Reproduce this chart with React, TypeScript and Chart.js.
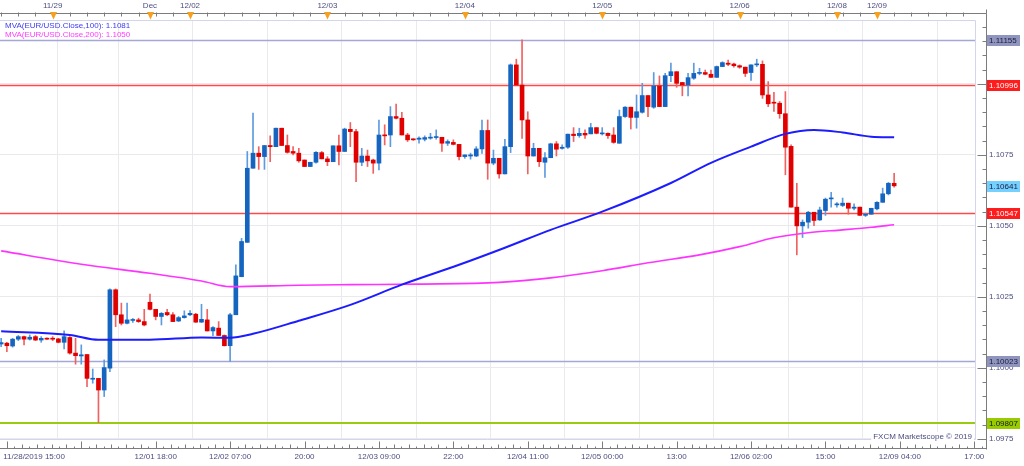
import React, { useEffect, useRef } from 'react';
import { Chart, registerables } from 'chart.js';

Chart.register(...registerables);

// Hourly EUR/USD candles, 11/28/2019 15:00 -> 12/09/2019 03:00 (weekend bars absent)
const opens = [
  1.10084, 1.10087, 1.10077, 1.10101, 1.10110, 1.10101, 1.10110, 1.10098, 1.10104, 1.10104,
  1.10102, 1.10090, 1.10107, 1.10052, 1.10042, 1.10047, 1.09960, 1.09963, 1.09922, 1.09999,
  1.10275, 1.10187, 1.10157, 1.10167, 1.10169, 1.10163, 1.10231, 1.10206, 1.10181, 1.10195,
  1.10187, 1.10165, 1.10177, 1.10187, 1.10189, 1.10161, 1.10169, 1.10130, 1.10140, 1.10114,
  1.10078, 1.10187, 1.10321, 1.10442, 1.10703, 1.10756, 1.10744, 1.10783, 1.10779, 1.10844,
  1.10783, 1.10762, 1.10756, 1.10732, 1.10709, 1.10724, 1.10758, 1.10736, 1.10726, 1.10782,
  1.10762, 1.10840, 1.10832, 1.10724, 1.10746, 1.10732, 1.10721, 1.10820, 1.10820, 1.10885,
  1.10879, 1.10820, 1.10805, 1.10805, 1.10805, 1.10809, 1.10811, 1.10812, 1.10791, 1.10794,
  1.10787, 1.10744, 1.10746, 1.10746, 1.10771, 1.10836, 1.10721, 1.10738, 1.10683, 1.10779,
  1.11067, 1.10996, 1.10873, 1.10746, 1.10773, 1.10724, 1.10740, 1.10789, 1.10773, 1.10777,
  1.10823, 1.10818, 1.10826, 1.10824, 1.10846, 1.10824, 1.10826, 1.10820, 1.10791, 1.10885,
  1.10918, 1.10882, 1.10900, 1.10959, 1.10918, 1.10993, 1.10920, 1.11029, 1.11043, 1.11005,
  1.10996, 1.11020, 1.11037, 1.11040, 1.11034, 1.11023, 1.11061, 1.11073, 1.11070, 1.11064,
  1.11059, 1.11040, 1.11067, 1.11069, 1.10961, 1.10935, 1.10932, 1.10895, 1.10780, 1.10566,
  1.10500, 1.10513, 1.10548, 1.10521, 1.10554, 1.10595, 1.10574, 1.10572, 1.10580, 1.10562,
  1.10566, 1.10537, 1.10541, 1.10560, 1.10583, 1.10613, 1.10650,
];

const highs = [
  1.10104, 1.10090, 1.10104, 1.10114, 1.10112, 1.10116, 1.10114, 1.10110, 1.10106, 1.10110,
  1.10104, 1.10130, 1.10110, 1.10104, 1.10081, 1.10047, 1.09996, 1.09963, 1.10028, 1.10278,
  1.10278, 1.10228, 1.10228, 1.10174, 1.10175, 1.10206, 1.10260, 1.10206, 1.10195, 1.10206,
  1.10195, 1.10181, 1.10201, 1.10202, 1.10192, 1.10224, 1.10206, 1.10145, 1.10163, 1.10116,
  1.10192, 1.10363, 1.10456, 1.10762, 1.10897, 1.10779, 1.10783, 1.10817, 1.10844, 1.10844,
  1.10820, 1.10779, 1.10773, 1.10732, 1.10724, 1.10762, 1.10762, 1.10744, 1.10782, 1.10820,
  1.10844, 1.10864, 1.10840, 1.10773, 1.10767, 1.10735, 1.10873, 1.10856, 1.10920, 1.10929,
  1.10900, 1.10826, 1.10807, 1.10814, 1.10817, 1.10826, 1.10838, 1.10812, 1.10803, 1.10803,
  1.10787, 1.10750, 1.10756, 1.10779, 1.10873, 1.10873, 1.10767, 1.10738, 1.10805, 1.11070,
  1.11087, 1.11155, 1.10902, 1.10791, 1.10773, 1.10758, 1.10791, 1.10797, 1.10785, 1.10823,
  1.10846, 1.10844, 1.10838, 1.10861, 1.10846, 1.10846, 1.10828, 1.10846, 1.10908, 1.10920,
  1.10918, 1.10961, 1.11002, 1.10959, 1.11040, 1.11028, 1.11037, 1.11073, 1.11043, 1.11005,
  1.11037, 1.11073, 1.11055, 1.11049, 1.11049, 1.11063, 1.11078, 1.11084, 1.11073, 1.11067,
  1.11059, 1.11067, 1.11087, 1.11081, 1.11008, 1.10970, 1.10938, 1.10973, 1.10785, 1.10650,
  1.10521, 1.10551, 1.10548, 1.10566, 1.10598, 1.10618, 1.10582, 1.10598, 1.10580, 1.10578,
  1.10566, 1.10545, 1.10562, 1.10586, 1.10633, 1.10653, 1.10685,
];

const lows = [
  1.10075, 1.10057, 1.10073, 1.10096, 1.10081, 1.10098, 1.10096, 1.10090, 1.10100, 1.10096,
  1.10088, 1.10067, 1.10048, 1.10013, 1.10013, 1.09934, 1.09946, 1.09807, 1.09899, 1.09987,
  1.10145, 1.10151, 1.10155, 1.10160, 1.10160, 1.10148, 1.10204, 1.10169, 1.10151, 1.10184,
  1.10163, 1.10163, 1.10175, 1.10184, 1.10160, 1.10160, 1.10130, 1.10113, 1.10114, 1.10077,
  1.10023, 1.10187, 1.10321, 1.10442, 1.10703, 1.10699, 1.10699, 1.10726, 1.10779, 1.10783,
  1.10756, 1.10750, 1.10724, 1.10709, 1.10709, 1.10721, 1.10736, 1.10712, 1.10726, 1.10715,
  1.10762, 1.10779, 1.10656, 1.10712, 1.10709, 1.10685, 1.10697, 1.10785, 1.10779, 1.10877,
  1.10820, 1.10797, 1.10801, 1.10791, 1.10799, 1.10805, 1.10805, 1.10762, 1.10783, 1.10785,
  1.10732, 1.10738, 1.10735, 1.10744, 1.10755, 1.10664, 1.10715, 1.10668, 1.10683, 1.10758,
  1.10996, 1.10808, 1.10683, 1.10746, 1.10709, 1.10671, 1.10740, 1.10746, 1.10770, 1.10773,
  1.10797, 1.10812, 1.10808, 1.10824, 1.10824, 1.10820, 1.10808, 1.10791, 1.10791, 1.10882,
  1.10841, 1.10844, 1.10897, 1.10885, 1.10914, 1.10920, 1.10920, 1.11008, 1.10988, 1.10958,
  1.10958, 1.11016, 1.11032, 1.11032, 1.11023, 1.11023, 1.11061, 1.11064, 1.11059, 1.11055,
  1.11026, 1.11012, 1.11061, 1.10949, 1.10920, 1.10903, 1.10879, 1.10680, 1.10566, 1.10398,
  1.10459, 1.10492, 1.10501, 1.10519, 1.10537, 1.10566, 1.10566, 1.10568, 1.10541, 1.10556,
  1.10537, 1.10533, 1.10541, 1.10556, 1.10583, 1.10609, 1.10636,
];

const closes = [
  1.10089, 1.10078, 1.10101, 1.10110, 1.10101, 1.10108, 1.10098, 1.10104, 1.10101, 1.10101,
  1.10090, 1.10110, 1.10052, 1.10043, 1.10046, 1.09963, 1.09963, 1.09922, 1.10001, 1.10275,
  1.10187, 1.10157, 1.10169, 1.10169, 1.10163, 1.10151, 1.10206, 1.10181, 1.10192, 1.10187,
  1.10163, 1.10177, 1.10183, 1.10192, 1.10161, 1.10171, 1.10130, 1.10142, 1.10114, 1.10078,
  1.10187, 1.10324, 1.10445, 1.10703, 1.10756, 1.10744, 1.10783, 1.10779, 1.10844, 1.10783,
  1.10759, 1.10756, 1.10729, 1.10709, 1.10724, 1.10759, 1.10736, 1.10726, 1.10782, 1.10762,
  1.10841, 1.10832, 1.10724, 1.10746, 1.10729, 1.10721, 1.10820, 1.10817, 1.10885, 1.10879,
  1.10820, 1.10803, 1.10803, 1.10809, 1.10811, 1.10812, 1.10812, 1.10791, 1.10797, 1.10787,
  1.10744, 1.10750, 1.10750, 1.10771, 1.10836, 1.10721, 1.10738, 1.10683, 1.10779, 1.11067,
  1.10996, 1.10873, 1.10746, 1.10773, 1.10726, 1.10740, 1.10789, 1.10770, 1.10777, 1.10823,
  1.10818, 1.10826, 1.10820, 1.10846, 1.10826, 1.10826, 1.10818, 1.10794, 1.10885, 1.10918,
  1.10882, 1.10902, 1.10959, 1.10920, 1.10993, 1.10920, 1.11029, 1.11043, 1.11002, 1.10996,
  1.11022, 1.11037, 1.11040, 1.11034, 1.11023, 1.11061, 1.11075, 1.11069, 1.11064, 1.11059,
  1.11037, 1.11067, 1.11070, 1.10961, 1.10930, 1.10932, 1.10895, 1.10777, 1.10566, 1.10500,
  1.10513, 1.10548, 1.10519, 1.10556, 1.10594, 1.10598, 1.10576, 1.10580, 1.10562, 1.10566,
  1.10537, 1.10541, 1.10562, 1.10583, 1.10613, 1.10650, 1.10641,
];

// Moving averages read at sampled bar indices
const mva100Idx = [0, 12, 17, 26, 35, 40, 44, 52, 61, 70, 80, 88, 96, 105, 117, 124, 131, 137, 142, 147, 152, 156];
const mva100Val = [1.10129, 1.10116, 1.10099, 1.10099, 1.10107, 1.10106, 1.10120, 1.10166, 1.10222, 1.10293, 1.10363, 1.10423, 1.10486, 1.10550, 1.10651, 1.10722, 1.10779, 1.10824, 1.10838, 1.10829, 1.10814, 1.10812];
const mva200Idx = [0, 14, 26, 35, 40, 52, 61, 73, 87, 96, 105, 113, 122, 129, 135, 141, 147, 152, 156];
const mva200Val = [1.10412, 1.10365, 1.10333, 1.10306, 1.10286, 1.10291, 1.10293, 1.10295, 1.10301, 1.10317, 1.10342, 1.10370, 1.10398, 1.10427, 1.10458, 1.10476, 1.10486, 1.10495, 1.10504];

// Axis ticks
const bottomTickIdx = [1, 5.75, 14, 27, 40, 53, 66, 79, 92, 105, 118, 131, 144, 157, 170];
const bottomTickLabels = ['', '11/28/2019 15:00', '', '12/01 18:00', '12/02 07:00', '20:00', '12/03 09:00', '22:00', '12/04 11:00', '12/05 00:00', '13:00', '12/06 02:00', '15:00', '12/09 04:00', '17:00'];
const topTickIdx = [9, 26, 33, 57, 81, 105, 129, 146, 153];
const topTickLabels = ['11/29', 'Dec', '12/02', '12/03', '12/04', '12/05', '12/06', '12/08', '12/09'];
const yMajorTicks = [1.0975, 1.1, 1.1025, 1.105, 1.1075, 1.11];
const yMinorStep = 0.0005;

// Horizontal price levels
const priceLines = [1.11155, 1.10996, 1.10547, 1.10023, 1.09807];
const priceLineKinds = ['level', 'resistance', 'resistance', 'level', 'support'];

const legendNames = ['MVA(EUR/USD.Close,100)', 'MVA(EUR/USD.Close,200)'];

const X_MIN = -0.2;
const X_MAX = 170.3;
const Y_MIN = 1.09746;
const Y_MAX = 1.11225;

const FAMILY = '"Liberation Sans", Arial, sans-serif';
const FONT = `8px ${FAMILY}`;
const AXIS_TEXT = '#4d4d80';
const BULL = '#1565c0';
const BEAR = '#e00000';
const BULL_WICK = '#5d9be0';
const BEAR_WICK = '#f06262';
const MVA100_COLOR = '#1c1cff';
const MVA200_COLOR = '#ff33ff';

const kindStyle: Record<string, { line: string; width: number; bg: string; fg: string }> = {
  level: { line: '#a4a8d6', width: 1.4, bg: '#8f95bd', fg: '#1a1a40' },
  resistance: { line: '#ff4a4a', width: 1.4, bg: '#ff1c1c', fg: '#ffffff' },
  support: { line: '#99cc11', width: 2, bg: '#99cc00', fg: '#1a1a1a' },
  current: { line: 'transparent', width: 0, bg: '#74d0ff', fg: '#1a1a40' },
};

const isMajor = (v: number) => yMajorTicks.some((m) => Math.abs(m - v) < 1e-7);

const decor = {
  id: 'decor',
  beforeDatasetsDraw(chart: any) {
    const { ctx, chartArea: a, scales } = chart;
    const y = scales.y;
    ctx.save();
    // plot frame
    ctx.strokeStyle = '#d3d6ea';
    ctx.lineWidth = 1;
    ctx.beginPath();
    ctx.moveTo(a.left, a.top + 0.5);
    ctx.lineTo(a.right - 0.5, a.top + 0.5);
    ctx.lineTo(a.right - 0.5, a.bottom - 0.5);
    ctx.lineTo(a.left, a.bottom - 0.5);
    ctx.stroke();
    // price level lines
    priceLines.forEach((v, k) => {
      const st = kindStyle[priceLineKinds[k]];
      const py = Math.round(y.getPixelForValue(v)) + (st.width === 2 ? 0 : 0.5);
      ctx.strokeStyle = st.line;
      ctx.lineWidth = st.width;
      ctx.beginPath();
      ctx.moveTo(a.left, py);
      ctx.lineTo(a.right - 1, py);
      ctx.stroke();
    });
    ctx.restore();
  },
  afterDraw(chart: any) {
    const { ctx, chartArea: a, scales } = chart;
    const x = scales.x;
    const y = scales.y;
    const axisX = a.right + 10.5;
    const topY = 13.5;
    const botY = 448.5;
    ctx.save();
    ctx.strokeStyle = '#7c7c7c';
    ctx.lineWidth = 1;

    // right axis line + ticks
    ctx.beginPath();
    ctx.moveTo(axisX, topY);
    ctx.lineTo(axisX, botY + 1);
    for (const t of y.ticks) {
      const py = Math.round(y.getPixelForValue(t.value)) + 0.5;
      const len = isMajor(t.value) ? 9 : 4;
      ctx.moveTo(axisX - len, py);
      ctx.lineTo(axisX, py);
    }
    // top axis line + ticks
    ctx.moveTo(0, topY);
    ctx.lineTo(axisX, topY);
    for (let i = 0; i <= X_MAX; i += 3) {
      const px = Math.round(x.getPixelForValue(i)) + 0.5;
      ctx.moveTo(px, topY - 1);
      ctx.lineTo(px, topY + 3);
    }
    ctx.moveTo(axisX, topY - 4);
    ctx.lineTo(axisX, topY);
    // bottom axis line + ticks
    ctx.moveTo(0, botY);
    ctx.lineTo(axisX, botY);
    for (let k = 0; k < bottomTickIdx.length; k++) {
      if (k === 1) continue;
      const v = bottomTickIdx[k];
      const px = Math.round(x.getPixelForValue(v)) + 0.5;
      ctx.moveTo(px, botY);
      ctx.lineTo(px, botY - 7);
      for (let s = 1; s < 10; s++) {
        const sx = Math.round(x.getPixelForValue(v + (13 * s) / 10)) + 0.5;
        if (sx > axisX) break;
        ctx.moveTo(sx, botY);
        ctx.lineTo(sx, botY - (s % 2 === 0 ? 4 : 2));
      }
    }
    ctx.stroke();

    // orange day markers on top axis
    ctx.fillStyle = '#f5a01e';
    topTickIdx.forEach((v) => {
      const px = Math.round(x.getPixelForValue(v)) + 0.5;
      ctx.beginPath();
      ctx.moveTo(px - 3.5, 12);
      ctx.lineTo(px + 3.5, 12);
      ctx.lineTo(px, 19.5);
      ctx.closePath();
      ctx.fill();
    });

    // price boxes on the right axis
    ctx.font = FONT;
    ctx.textBaseline = 'middle';
    ctx.textAlign = 'left';
    const boxes = priceLines.map((v, k) => ({ v, kind: priceLineKinds[k] }));
    boxes.push({ v: closes[closes.length - 1], kind: 'current' });
    boxes.forEach(({ v, kind }) => {
      const st = kindStyle[kind];
      const py = Math.round(y.getPixelForValue(v));
      ctx.fillStyle = st.bg;
      ctx.fillRect(axisX + 0.5, py - 5, 33, 11);
      ctx.fillStyle = st.fg;
      ctx.fillText(v.toFixed(5), axisX + 2.5, py + 0.5);
    });

    // MVA legend
    const lastVals = [mva100Val[mva100Val.length - 1], mva200Val[mva200Val.length - 1]];
    const legendColors = ['#3c3cf0', '#ff3cff'];
    legendNames.forEach((name, k) => {
      ctx.fillStyle = legendColors[k];
      ctx.fillText(`${name}: ${lastVals[k].toFixed(4)}`, 5, 25.5 + k * 9);
    });

    // watermark
    ctx.textAlign = 'right';
    const wm = 'FXCM Marketscope \u00a9 2019';
    const w = ctx.measureText(wm).width;
    ctx.fillStyle = '#ffffff';
    ctx.fillRect(a.right - 4 - w - 2, a.bottom - 8, w + 4, 8);
    ctx.fillStyle = AXIS_TEXT;
    ctx.fillText(wm, a.right - 4, a.bottom - 3.5);
    ctx.restore();
  },
};

export default function App() {
  const ref = useRef<HTMLCanvasElement>(null);

  useEffect(() => {
    document.body.style.margin = '0';
    const idx = closes.map((_, i) => i);
    const isBull = (i: number) => closes[i] >= opens[i];

    const chart = new Chart(ref.current as HTMLCanvasElement, {
      type: 'bar',
      data: {
        datasets: [
          {
            type: 'line',
            label: legendNames[0],
            data: mva100Idx.map((i, k) => ({ x: i, y: mva100Val[k] })),
            borderColor: MVA100_COLOR,
            borderWidth: 2,
            pointRadius: 0,
            cubicInterpolationMode: 'monotone',
            order: 0,
          },
          {
            type: 'line',
            label: legendNames[1],
            data: mva200Idx.map((i, k) => ({ x: i, y: mva200Val[k] })),
            borderColor: MVA200_COLOR,
            borderWidth: 1.6,
            pointRadius: 0,
            cubicInterpolationMode: 'monotone',
            order: 0,
          },
          {
            type: 'bar',
            label: 'body',
            data: idx.map((i) => ({ x: i, y: [opens[i], closes[i]] })),
            backgroundColor: (c: any) => (isBull(c.dataIndex) ? BULL : BEAR),
            barThickness: 4,
            minBarLength: 1,
            grouped: false,
            order: 1,
          } as any,
          {
            type: 'bar',
            label: 'wick',
            data: idx.map((i) => ({ x: i, y: [lows[i], highs[i]] })),
            backgroundColor: (c: any) => (isBull(c.dataIndex) ? BULL_WICK : BEAR_WICK),
            barThickness: 1,
            grouped: false,
            order: 2,
          } as any,
        ],
      },
      options: {
        responsive: false,
        devicePixelRatio: 1,
        animation: false,
        layout: { padding: 0 },
        plugins: { legend: { display: false }, tooltip: { enabled: false } },
        scales: {
          x: {
            type: 'linear',
            position: 'bottom',
            min: X_MIN,
            max: X_MAX,
            offset: false,
            border: { display: false },
            grid: {
              color: (c: any) => (c.tick && c.tick.value === bottomTickIdx[1] ? 'rgba(0,0,0,0)' : '#e9e9ee'),
              drawTicks: true,
              tickLength: 8,
              tickColor: 'rgba(0,0,0,0)',
            },
            afterBuildTicks: (s: any) => {
              s.ticks = bottomTickIdx.map((v) => ({ value: v }));
            },
            afterFit: (s: any) => {
              s.height = 26;
              s.paddingLeft = 0;
              s.paddingRight = 0;
            },
            ticks: {
              autoSkip: false,
              maxRotation: 0,
              padding: 4,
              color: AXIS_TEXT,
              font: { family: FAMILY, size: 8 },
              callback: (_v: any, i: number) => bottomTickLabels[i],
            },
          },
          x2: {
            type: 'linear',
            position: 'top',
            min: X_MIN,
            max: X_MAX,
            offset: false,
            border: { display: false },
            grid: { drawOnChartArea: false, drawTicks: true, tickLength: 7, tickColor: 'rgba(0,0,0,0)' },
            afterBuildTicks: (s: any) => {
              s.ticks = topTickIdx.map((v) => ({ value: v }));
            },
            afterFit: (s: any) => {
              s.height = 20;
              s.paddingLeft = 0;
              s.paddingRight = 0;
            },
            ticks: {
              autoSkip: false,
              maxRotation: 0,
              padding: 2,
              color: AXIS_TEXT,
              font: { family: FAMILY, size: 8 },
              callback: (_v: any, i: number) => topTickLabels[i],
            },
          },
          y: {
            type: 'linear',
            position: 'right',
            min: Y_MIN,
            max: Y_MAX,
            border: { display: false },
            grid: {
              color: (c: any) => (c.tick && isMajor(c.tick.value) ? '#e9e9ee' : 'rgba(0,0,0,0)'),
              drawTicks: true,
              tickLength: 10,
              tickColor: 'rgba(0,0,0,0)',
            },
            afterBuildTicks: (s: any) => {
              const out: { value: number }[] = [];
              for (let v = yMajorTicks[0]; v <= Y_MAX; v += yMinorStep) out.push({ value: Number(v.toFixed(4)) });
              s.ticks = out;
            },
            afterFit: (s: any) => {
              s.width = 48;
              s.paddingTop = 0;
              s.paddingBottom = 0;
            },
            ticks: {
              autoSkip: false,
              padding: 3,
              color: AXIS_TEXT,
              font: { family: FAMILY, size: 8 },
              callback: (v: any) => (isMajor(Number(v)) ? Number(v).toFixed(4) : ''),
            },
          },
        },
      } as any,
      plugins: [decor],
    });
    return () => chart.destroy();
  }, []);

  return (
    <div style={{ position: 'fixed', left: 0, top: 0, width: 1024, height: 466, background: '#ffffff' }}>
      <canvas ref={ref} width={1024} height={466} style={{ display: 'block', width: 1024, height: 466 }} />
    </div>
  );
}
